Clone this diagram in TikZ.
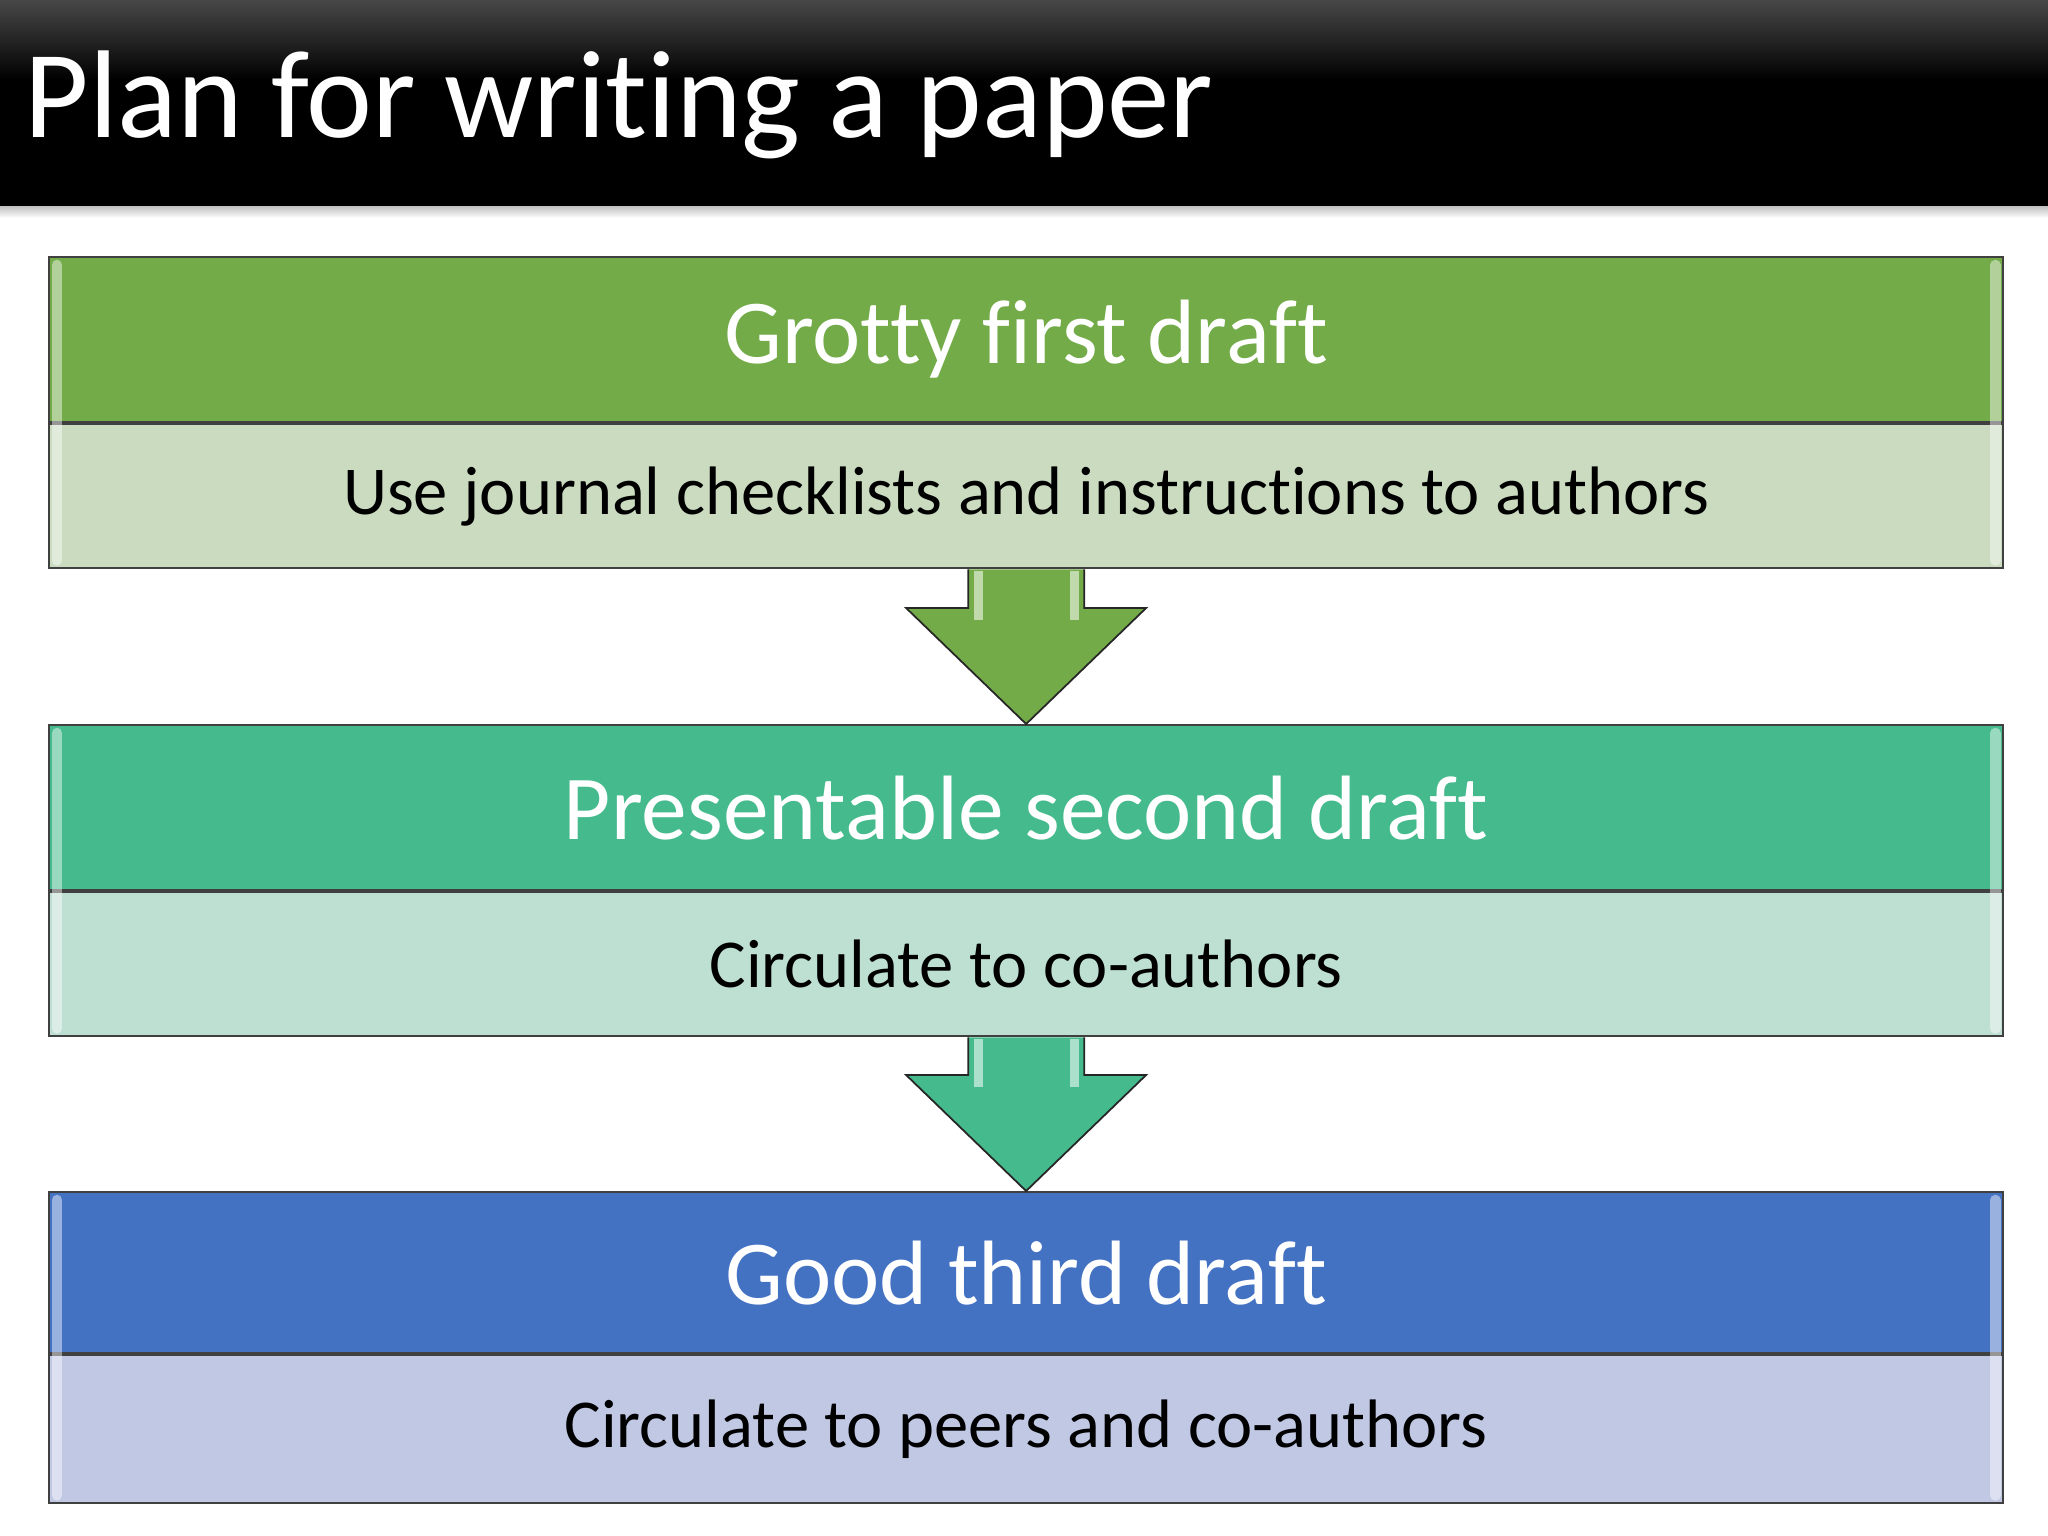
\documentclass[tikz,border=0pt]{standalone}
\usepackage{fontspec}
\setmainfont[Ligatures=NoCommon]{Carlito}
\usetikzlibrary{calc,positioning}
\definecolor{grottygreen}{HTML}{72AB48}
\definecolor{grottylight}{HTML}{CADBC0}
\definecolor{presentgreen}{HTML}{44BA8D}
\definecolor{presentlight}{HTML}{BEE0D3}
\definecolor{goodblue}{HTML}{4472C3}
\definecolor{goodlight}{HTML}{C0C8E4}
\tikzset{
	headbox/.style={draw=black!75, line width=0.6pt, minimum width=19.53cm, minimum height=1.65cm, inner sep=0pt, text=white, font=\fontsize{26}{32}\selectfont},
	subbox/.style={draw=black!75, line width=0.6pt, minimum width=19.53cm, minimum height=1.44cm, inner sep=0pt, text=black, font=\fontsize{19.5}{24}\selectfont},
	blockarrow/.style={draw=black!85, line width=0.5pt, line join=miter}
}
\def\gloss(#1)(#2){\draw[line width=3pt, white, opacity=0.45, line cap=round] ($(#1.north west)+(9,9)$) -- ($(#2.south west)+(9,-9)$);
	\draw[line width=3pt, white, opacity=0.45, line cap=round] ($(#1.north east)+(-9,9)$) -- ($(#2.south east)+(-9,-9)$);}

\begin{document}
\begin{tikzpicture}[x=0.01cm, y=-0.01cm]
			%%%%% START %%%%%
			
			\useasboundingbox (0, 0) rectangle (2048, 1536);
			\fill[white] (0, 0) rectangle (2048, 1536);
			
			% title bar
			\shade[top color=black!25, bottom color=white] (0, 206) rectangle (2048, 218);
			\shade[top color=black!72, bottom color=black] (0, 0) rectangle (2048, 80);
			\fill[black] (0, 79) rectangle (2048, 206);
			\node[anchor=base west, text=white, font=\fontsize{35.5}{42}\selectfont, inner sep=0pt] (title) at (24, 137) {Plan for writing a paper};
			
			% steps
			\node[headbox, fill=grottygreen, anchor=north west] (grotty) at (48, 256) {Grotty first draft};
			\node[subbox, fill=grottylight, below=0pt of grotty] (grottysub) {Use journal checklists and instructions to authors};
			
			\node[headbox, fill=presentgreen, anchor=north west] (present) at (48, 724) {Presentable second draft};
			\node[subbox, fill=presentlight, below=0pt of present] (presentsub) {Circulate to co-authors};
			
			\node[headbox, fill=goodblue, anchor=north west, minimum height=1.61cm] (good) at (48, 1191) {Good third draft};
			\node[subbox, fill=goodlight, below=0pt of good, minimum height=1.48cm] (goodsub) {Circulate to peers and co-authors};
			
			\gloss(grotty)(grottysub)
			\gloss(present)(presentsub)
			\gloss(good)(goodsub)
			
			% arrows
			\filldraw[blockarrow, fill=grottygreen] ($(grottysub.south)+(-58, 0)$) -- ($(present.north)+(-58, -116)$) -- ($(present.north)+(-120, -116)$) -- (present.north) -- ($(present.north)+(120, -116)$) -- ($(present.north)+(58, -116)$) -- ($(grottysub.south)+(58, 0)$);
			\draw[line width=2.5pt, grottygreen!45!white] ($(grottysub.south)+(-48, 2)$) -- ($(present.north)+(-48, -104)$);
			\draw[line width=2.5pt, grottygreen!45!white] ($(grottysub.south)+(48, 2)$) -- ($(present.north)+(48, -104)$);
			
			\filldraw[blockarrow, fill=presentgreen] ($(presentsub.south)+(-58, 0)$) -- ($(good.north)+(-58, -116)$) -- ($(good.north)+(-120, -116)$) -- (good.north) -- ($(good.north)+(120, -116)$) -- ($(good.north)+(58, -116)$) -- ($(presentsub.south)+(58, 0)$);
			\draw[line width=2.5pt, presentgreen!45!white] ($(presentsub.south)+(-48, 2)$) -- ($(good.north)+(-48, -104)$);
			\draw[line width=2.5pt, presentgreen!45!white] ($(presentsub.south)+(48, 2)$) -- ($(good.north)+(48, -104)$);
			
			%%%%% END %%%%%
\end{tikzpicture}
\end{document}
